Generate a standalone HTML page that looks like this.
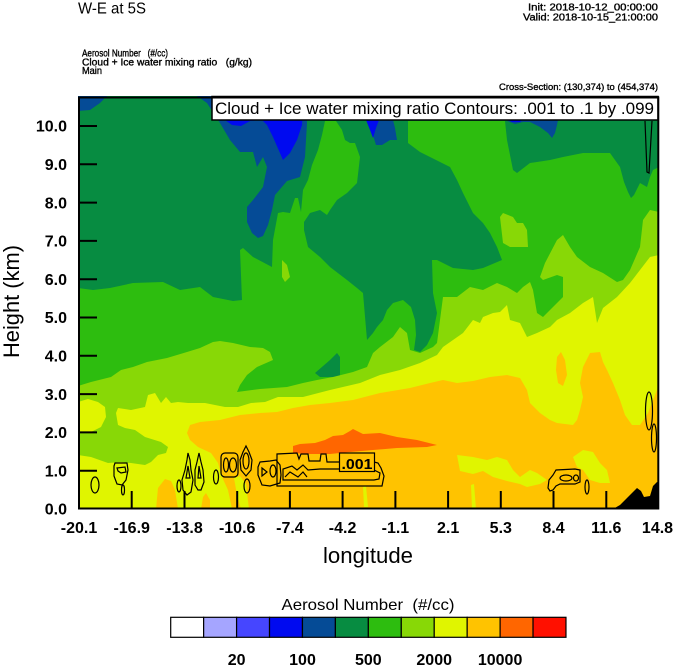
<!DOCTYPE html>
<html><head><meta charset="utf-8"><style>
html,body{margin:0;padding:0;background:#fff;}
svg{display:block;}
text{font-family:"Liberation Sans",Arial,Helvetica,sans-serif;fill:#000;white-space:pre;}
.sm{stroke:#000;stroke-width:0.35;}
</style></head><body>
<svg width="674" height="667" viewBox="0 0 674 667" xmlns="http://www.w3.org/2000/svg">
<defs><clipPath id="pc"><rect x="78" y="96" width="581" height="413"/></clipPath></defs>

<!-- header -->
<text x="78" y="13.5" font-size="16" textLength="68" lengthAdjust="spacingAndGlyphs">W-E at 5S</text>
<text class="sm" x="528" y="10.5" font-size="10.5" textLength="130" lengthAdjust="spacingAndGlyphs">Init: 2018-10-12_00:00:00</text>
<text class="sm" x="523" y="20.5" font-size="10.5" textLength="135" lengthAdjust="spacingAndGlyphs">Valid: 2018-10-15_21:00:00</text>
<text class="sm" x="82" y="56.5" font-size="10" textLength="86" lengthAdjust="spacingAndGlyphs">Aerosol Number   (#/cc)</text>
<text class="sm" x="82" y="65.5" font-size="10" textLength="170" lengthAdjust="spacingAndGlyphs">Cloud + Ice water mixing ratio   (g/kg)</text>
<text class="sm" x="82" y="74" font-size="10" textLength="20" lengthAdjust="spacingAndGlyphs">Main</text>
<text class="sm" x="499" y="90" font-size="9.5" textLength="159" lengthAdjust="spacingAndGlyphs">Cross-Section: (130,374) to (454,374)</text>

<g clip-path="url(#pc)">
<rect x="78" y="96" width="581" height="413" fill="#078c41"/>
<!-- dark blue -->
<g fill="#054b96">
<polygon points="78,96 107,96 100,103 90,110 78,111"/>
<polygon points="197,96 207,103 220,123 230,140 240,152 253,152 257,167 263,157 267,167 263,187 253,200 247,207 247,222 252,233 258,238 263,236 268,225 272,210 275,195 287,181 300,177 305,157 307,123 305,96"/>
<polygon points="368,120 372,132 376,145 382,145 390,140 397,140 395,128 393,120"/>
<polygon points="505,120 515,124 523,122 530,122 540,127 548,133 552,138 555,133 557,125 558,120"/>
</g>
<g fill="#000af0">
<polygon points="225,120 232,125 241,126 250,121 262,120 267,125 273,137 283,160 290,153 297,140 302,125 303,108 300,96 232,96"/>
<polygon points="366,120 370,130 373,138 376,128 379,120"/>
<polygon points="508,120 512,122 520,122 522,120"/>
</g>
<!-- bright green -->
<polygon fill="#2dbd0f" points="78,288 93,290 110,288 133,283 163,282 180,290 200,287 213,297 233,301 242,300 240,250 243,248 253,257 272,267 273,240 278,213 283,212 290,213 295,198 298,198 301,212 303,190 308,180 312,165 318,150 322,135 325,121 336,121 342,130 345,140 350,143 355,143 360,157 357,183 347,193 337,200 330,210 327,215 320,210 310,213 304,222 304,230 308,247 320,257 330,267 347,280 357,288 363,293 367,340 373,333 377,327 383,320 387,310 393,303 403,300 411,307 415,320 416,335 414,350 420,352 427,345 433,333 437,313 433,293 432,260 437,260 453,268 473,270 483,268 502,260 497,247 490,233 483,223 473,213 463,193 457,180 450,167 440,162 420,152 408,143 408,121 505,121 507,140 513,170 517,173 530,163 537,162 550,160 563,157 583,153 597,153 610,153 620,167 624,182 628,192 631,198 634,195 640,183 647,187 650,177 653,170 659,167 659,509 78,509"/>
<polygon fill="#078c41" points="315,373 330,360 337,353 340,357 340,377 320,377"/>
<!-- light green -->
<g fill="#88d806">
<polygon points="78,386 91,382 111,377 121,370 133,367 147,362 167,358 187,352 200,348 213,342 220,341 233,343 250,347 263,348 270,352 273,360 257,367 247,375 240,385 237,392 260,389 287,387 303,383 317,380 333,377 353,372 367,367 373,353 380,347 393,337 400,327 407,333 410,350 420,353 433,347 437,343 443,297 457,297 470,287 483,290 497,283 507,287 517,293 523,287 530,282 533,290 537,313 543,317 563,297 563,277 557,275 543,280 540,277 545,263 557,240 563,235 570,247 577,257 590,267 603,273 617,282 623,280 630,270 640,247 643,220 650,210 659,212 659,509 78,509"/>
<polygon points="500,217 503,213 513,217 517,223 523,223 527,230 528,247 510,247 503,243"/>
<polygon points="282,260 287,265 290,277 285,282 282,277"/>
</g>
<!-- yellow -->
<g fill="#e0f500">
<polygon points="78,455 91,457 108,463 121,462 131,463 145,465 151,462 158,455 166,453 168,447 161,442 145,437 135,430 125,428 118,425 116,413 118,408 131,410 145,407 148,395 155,393 161,403 166,397 171,403 178,402 188,403 205,403 225,407 238,407 251,403 265,402 278,397 303,397 330,390 360,383 380,375 400,370 420,363 437,355 443,347 463,333 473,320 480,323 483,317 493,313 500,312 507,305 510,320 520,323 527,337 537,333 550,327 557,320 570,313 583,303 593,297 597,323 603,308 617,297 630,283 640,270 650,257 659,255 659,509 78,509"/>
<polygon points="78,402 88,399 98,402 105,407 106,417 101,427 91,432 78,433"/>
</g>
<!-- orange -->
<g fill="#ffc300">
<polygon points="187,433 190,425 200,422 220,420 240,415 260,413 277,412 293,408 310,405 330,403 353,400 380,393 410,388 430,383 443,380 457,383 473,381 490,377 507,375 520,378 527,390 530,403 540,413 550,420 557,423 573,425 577,420 580,410 583,397 580,383 583,367 590,353 600,352 603,362 607,370 613,383 620,400 625,415 632,425 640,425 648,413 655,395 659,385 659,509 232,509 228,490 222,477 218,463 211,453 198,447 190,440"/>
<polygon points="557,357 561,352 565,360 567,375 563,386 558,383 556,370"/>
<polygon points="156,509 158,488 165,479 171,481 175,490 178,509"/>
<polygon points="201,509 203,497 206,493 210,500 210,509"/>
</g>
<g fill="#e0f500">
<polygon points="234,478 240,476 246,484 249,509 241,509 237,495"/>
<polygon points="457,455 473,457 487,460 497,457 507,460 513,470 520,477 530,470 537,473 547,480 540,484 527,487 520,484 507,481 493,477 483,471 473,474 460,471"/>
<polygon points="471,485 474,484 476,509 472,509"/>
<polygon points="363,487 366,486 368,507 364,507"/>
<polygon points="573,457 583,450 593,452 600,463 607,470 610,483 600,483 590,480 583,470 577,467"/>
</g>
<!-- red-orange -->
<polygon fill="#ff6600" points="293,446 300,444 315,443 325,440 333,436 343,435 350,431 353,429 363,434 380,433 397,437 417,440 437,445 427,447 397,448 373,450 350,452 330,454 310,454 293,453"/>
<!-- terrain -->
<polygon fill="#000" points="613,509 620,505 627,498 637,488 641,491 644,497 650,496 653,486 657,482 659,482 659,509"/>

<!-- contours -->
<g fill="none" stroke="#000" stroke-width="1.2">
<ellipse cx="95" cy="485" rx="4" ry="8"/>
<path d="M115,463 L127,463 L128,470 L126,480 L122,485 L117,484 L114,476 L114,466 Z"/>
<path d="M117,468 L125,467 L126,472 L121,473 L118,471 Z"/>
<ellipse cx="123" cy="490" rx="1.5" ry="5"/>
<ellipse cx="179" cy="486" rx="2" ry="6"/>
<path d="M183,490 L182,480 L185,470 L187,460 L188,453 L190,460 L191,470 L193,480 L191,492 L187,495 Z"/>
<path d="M186,478 L188,466 L190,478 Z"/>
<path d="M195,485 L195,470 L197,462 L199,453 L201,462 L203,470 L204,482 L201,490 L198,490 Z"/>
<path d="M198,478 L199,466 L201,478 Z"/>
<ellipse cx="216" cy="477" rx="2.5" ry="7"/>
<rect x="221" y="453" width="17" height="24" rx="4"/>
<ellipse cx="226" cy="465" rx="2.5" ry="7"/>
<ellipse cx="233" cy="465" rx="3.5" ry="7"/>
<path d="M241,470 L240,460 L243,452 L246,446 L249,452 L252,460 L251,470 L246,476 Z"/>
<ellipse cx="246" cy="461" rx="3" ry="8"/>
<ellipse cx="247" cy="486" rx="3" ry="7"/>
<path d="M260,462 L270,461 L276,460 L280,465 L281,475 L280,483 L270,486 L262,485 L258,475 L258,467 Z"/>
<path d="M262,468 L267,472 L262,476 Z"/>
<ellipse cx="273" cy="471" rx="3" ry="6"/>
<path d="M339,462 L327,462 L326,454 L321,454 L320,461 L309,461 L308,454 L301,454 L299,459 L297,453 L277,454 L277,486 L382,486 L384,476 L381,468 L378,463 L374,462"/>
<path d="M339,469 L320,469 L308,470 L303,465 L297,470 L292,466 L283,469 L283,480 L374,480 L379,479 L380,473 L374,470"/>
<path d="M285,477 L290,472 L298,477 L303,472 L307,477"/>
<path d="M548,488 L549,480 L553,475 L556,470 L575,469 L580,470 L580,482 L575,484 L560,484 L556,486 L553,490 L550,491 Z"/>
<ellipse cx="566" cy="478" rx="6" ry="3"/>
<ellipse cx="576" cy="478" rx="2.5" ry="3"/>
<ellipse cx="587" cy="487" rx="2" ry="7"/>
<ellipse cx="649" cy="411" rx="3.5" ry="19"/>
<ellipse cx="654" cy="438" rx="2.5" ry="14"/>
<path d="M645,121 L647,172 L649,173 L652,121"/>
</g>
<!-- contour label -->
<rect x="339.5" y="453" width="35" height="18.5" fill="#ffc300" stroke="#000" stroke-width="1.2"/>
<text x="357" y="469" font-size="15" font-weight="bold" text-anchor="middle" textLength="31" lengthAdjust="spacingAndGlyphs">.001</text>

<!-- ticks -->
<g stroke="#000" stroke-width="2">
<line x1="78" y1="126" x2="97" y2="126"/>
<line x1="78" y1="164.3" x2="97" y2="164.3"/>
<line x1="78" y1="202.6" x2="97" y2="202.6"/>
<line x1="78" y1="240.9" x2="97" y2="240.9"/>
<line x1="78" y1="279.2" x2="97" y2="279.2"/>
<line x1="78" y1="317.5" x2="97" y2="317.5"/>
<line x1="78" y1="355.8" x2="97" y2="355.8"/>
<line x1="78" y1="394.1" x2="97" y2="394.1"/>
<line x1="78" y1="432.4" x2="97" y2="432.4"/>
<line x1="78" y1="470.7" x2="97" y2="470.7"/>
<line x1="131.7" y1="491" x2="131.7" y2="509"/>
<line x1="184.5" y1="491" x2="184.5" y2="509"/>
<line x1="237.2" y1="491" x2="237.2" y2="509"/>
<line x1="289.9" y1="491" x2="289.9" y2="509"/>
<line x1="342.6" y1="491" x2="342.6" y2="509"/>
<line x1="395.4" y1="491" x2="395.4" y2="509"/>
<line x1="448.1" y1="491" x2="448.1" y2="509"/>
<line x1="500.8" y1="491" x2="500.8" y2="509"/>
<line x1="553.5" y1="491" x2="553.5" y2="509"/>
<line x1="606.3" y1="491" x2="606.3" y2="509"/>
</g>
</g>

<!-- info box -->
<rect x="212" y="96.5" width="446" height="23.5" fill="#fff" stroke="#000" stroke-width="1.5"/>
<text x="215" y="114" font-size="17" textLength="439" lengthAdjust="spacingAndGlyphs">Cloud + Ice water mixing ratio Contours: .001 to .1 by .099</text>

<!-- frame -->
<rect x="79" y="97.5" width="579.3" height="411" fill="none" stroke="#000" stroke-width="2"/>

<!-- y labels -->
<g font-size="16" font-weight="bold" text-anchor="end">
<text x="67" y="131.7">10.0</text>
<text x="67" y="170">9.0</text>
<text x="67" y="208.3">8.0</text>
<text x="67" y="246.6">7.0</text>
<text x="67" y="284.9">6.0</text>
<text x="67" y="323.2">5.0</text>
<text x="67" y="361.5">4.0</text>
<text x="67" y="399.8">3.0</text>
<text x="67" y="438.1">2.0</text>
<text x="67" y="476.4">1.0</text>
<text x="67" y="514.7">0.0</text>
</g>
<!-- x labels -->
<g font-size="16" font-weight="bold" text-anchor="middle">
<text x="79" y="533">-20.1</text>
<text x="131.7" y="533">-16.9</text>
<text x="184.5" y="533">-13.8</text>
<text x="237.2" y="533">-10.6</text>
<text x="289.9" y="533">-7.4</text>
<text x="342.6" y="533">-4.2</text>
<text x="395.4" y="533">-1.1</text>
<text x="448.1" y="533">2.1</text>
<text x="500.8" y="533">5.3</text>
<text x="553.5" y="533">8.4</text>
<text x="606.3" y="533">11.6</text>
<text x="657.5" y="533">14.8</text>
</g>
<text x="368" y="563" font-size="22" text-anchor="middle" textLength="90" lengthAdjust="spacingAndGlyphs">longitude</text>
<text transform="translate(19,301.5) rotate(-90)" x="0" y="0" font-size="22" text-anchor="middle" textLength="113" lengthAdjust="spacingAndGlyphs">Height (km)</text>

<!-- colorbar -->
<text x="368" y="610" font-size="16" text-anchor="middle" textLength="173" lengthAdjust="spacingAndGlyphs">Aerosol Number  (#/cc)</text>
<g stroke="#000" stroke-width="1.2">
<rect x="170.7" y="617.3" width="32.94" height="20" fill="#ffffff"/>
<rect x="203.64" y="617.3" width="32.94" height="20" fill="#a5a5ff"/>
<rect x="236.58" y="617.3" width="32.94" height="20" fill="#4646ff"/>
<rect x="269.52" y="617.3" width="32.94" height="20" fill="#000af0"/>
<rect x="302.46" y="617.3" width="32.94" height="20" fill="#054b96"/>
<rect x="335.4" y="617.3" width="32.94" height="20" fill="#078c41"/>
<rect x="368.34" y="617.3" width="32.94" height="20" fill="#2dbd0f"/>
<rect x="401.28" y="617.3" width="32.94" height="20" fill="#88d806"/>
<rect x="434.22" y="617.3" width="32.94" height="20" fill="#e0f500"/>
<rect x="467.16" y="617.3" width="32.94" height="20" fill="#ffc300"/>
<rect x="500.1" y="617.3" width="32.94" height="20" fill="#ff6600"/>
<rect x="533.04" y="617.3" width="32.94" height="20" fill="#ff1000"/>
</g>
<g font-size="16" font-weight="bold" text-anchor="middle">
<text x="236.6" y="665">20</text>
<text x="302.5" y="665">100</text>
<text x="368.3" y="665">500</text>
<text x="434.2" y="665">2000</text>
<text x="500.1" y="665">10000</text>
</g>
</svg>
</body></html>
